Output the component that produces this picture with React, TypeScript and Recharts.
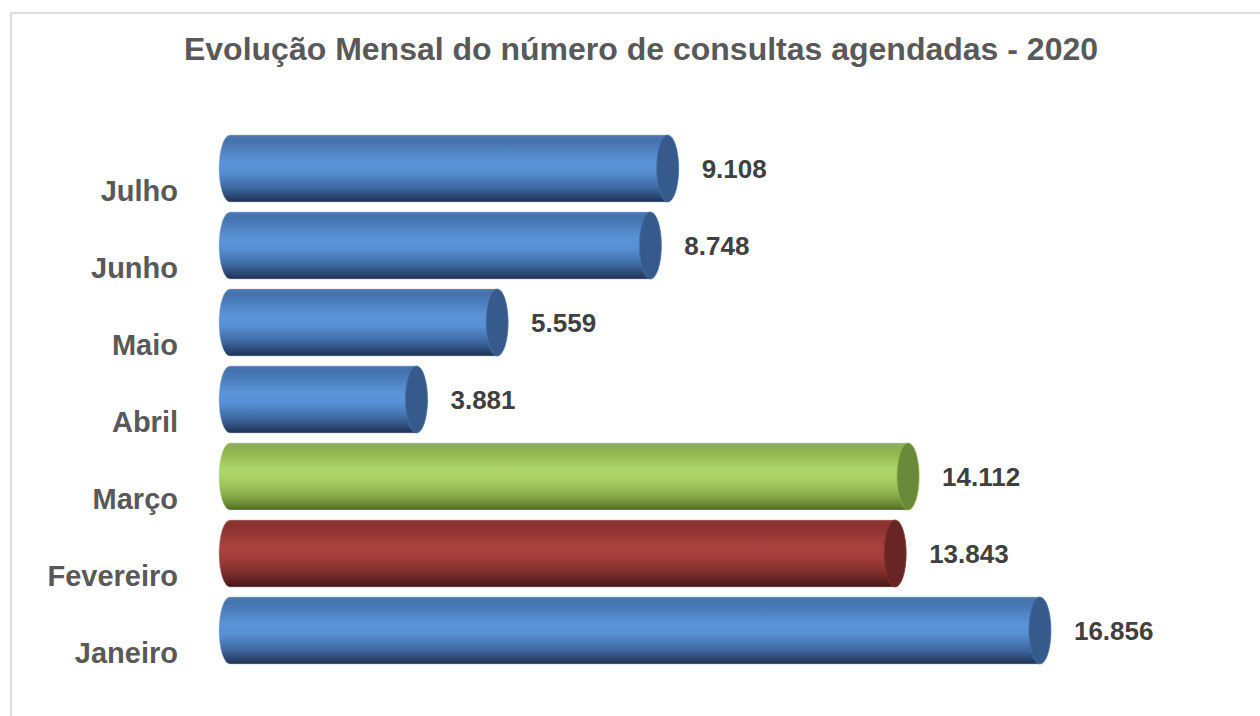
import { BarChart, Bar, XAxis, YAxis, LabelList } from "recharts";

const months = ["Janeiro", "Fevereiro", "Março", "Abril", "Maio", "Junho", "Julho"];
const consultas = [16856, 13843, 14112, 3881, 5559, 8748, 9108];
const title = "Evolução Mensal do número de consultas agendadas - 2020";

const data = months.map((mes, i) => ({ mes, valor: consultas[i] }));

// colour per month (blue by default)
const monthTone: Record<string, string> = { Fevereiro: "red", Março: "green" };

const TONES: any = {
  blue: {
    body: ["#4d79b0", "#4472ad", "#5a94d8", "#5790d3", "#3f6aa2", "#27416a", "#1e314f"],
    cap: "#365a8c",
    edge: "#a9b9cf",
  },
  red: {
    body: ["#8f3836", "#8a3230", "#aa413f", "#a43e3c", "#7f2e2d", "#561e1e", "#3f1515"],
    cap: "#692424",
    edge: "#c9a5a4",
  },
  green: {
    body: ["#8fb254", "#8cb04d", "#aed568", "#a9cf62", "#8aad4b", "#627f31", "#4d6526"],
    cap: "#6a8a3a",
    edge: "#c5d6a8",
  },
};
const stops = [0, 0.08, 0.4, 0.55, 0.78, 0.94, 1];

const fmt = (v: number) => v.toLocaleString("de-DE");

function Cylinder(props: any) {
  const { x, y, width, height, payload, index } = props;
  const t = TONES[monthTone[payload.mes] || "blue"];
  const rx = 11;
  const ry = height / 2;
  const id = "cyl-" + index;
  const d = `M ${x} ${y} L ${x + width} ${y} L ${x + width} ${y + height} L ${x} ${y + height} A ${rx} ${ry} 0 0 1 ${x} ${y} Z`;
  return (
    <g>
      <defs>
        <linearGradient id={id} x1="0" y1="0" x2="0" y2="1">
          {stops.map((s, i) => (
            <stop key={i} offset={s} stopColor={t.body[i]} />
          ))}
        </linearGradient>
      </defs>
      <path d={d} fill={`url(#${id})`} stroke={t.edge} strokeWidth={0.8} strokeOpacity={0.6} />
      <ellipse cx={x + width} cy={y + ry} rx={rx} ry={ry} fill={t.cap} stroke={t.body[1]} strokeWidth={0.8} />
    </g>
  );
}

function MonthTick(props: any) {
  const { x, y, payload } = props;
  return (
    <text x={x} y={y + 22} dy="0.35em" textAnchor="end" fill="#595959" fontSize={29} fontWeight="bold" fontFamily="Liberation Sans, Arial, sans-serif">
      {payload.value}
    </text>
  );
}

function ValueLabel(props: any) {
  const { x, y, width, height, value } = props;
  return (
    <text x={x + width + 34} y={y + height / 2} dy="0.35em" fill="#404040" fontSize={26} fontWeight="bold" fontFamily="Liberation Sans, Arial, sans-serif">
      {fmt(value)}
    </text>
  );
}

export default function App() {
  return (
    <div style={{ position: "absolute", left: 0, top: 0, width: 1260, height: 716, overflow: "hidden", background: "#fff" }}>
      <div style={{ position: "absolute", left: 10, top: 12, width: 1300, height: 760, border: "2px solid #dcdcdc", boxSizing: "border-box" }} />
      <div
        style={{
          position: "absolute",
          left: 0,
          top: 31,
          width: 1282,
          textAlign: "center",
          fontFamily: "Liberation Sans, Arial, sans-serif",
          fontWeight: "bold",
          fontSize: 32,
          lineHeight: "36px",
          color: "#595959",
        }}
      >
        {title}
      </div>
      <div style={{ position: "absolute", left: 0, top: 0 }}>
        <BarChart
          width={1260}
          height={716}
          data={data}
          layout="vertical"
          margin={{ top: 130, right: 69, bottom: 47, left: 0 }}
          barSize={67}
        >
          <XAxis type="number" domain={[0, 20000]} hide />
          <YAxis
            type="category"
            dataKey="mes"
            reversed
            width={230}
            axisLine={false}
            tickLine={false}
            tickSize={0}
            tickMargin={52}
            tick={<MonthTick />}
          />
          <Bar dataKey="valor" shape={<Cylinder />} isAnimationActive={false}>
            <LabelList dataKey="valor" content={<ValueLabel />} />
          </Bar>
        </BarChart>
      </div>
    </div>
  );
}
